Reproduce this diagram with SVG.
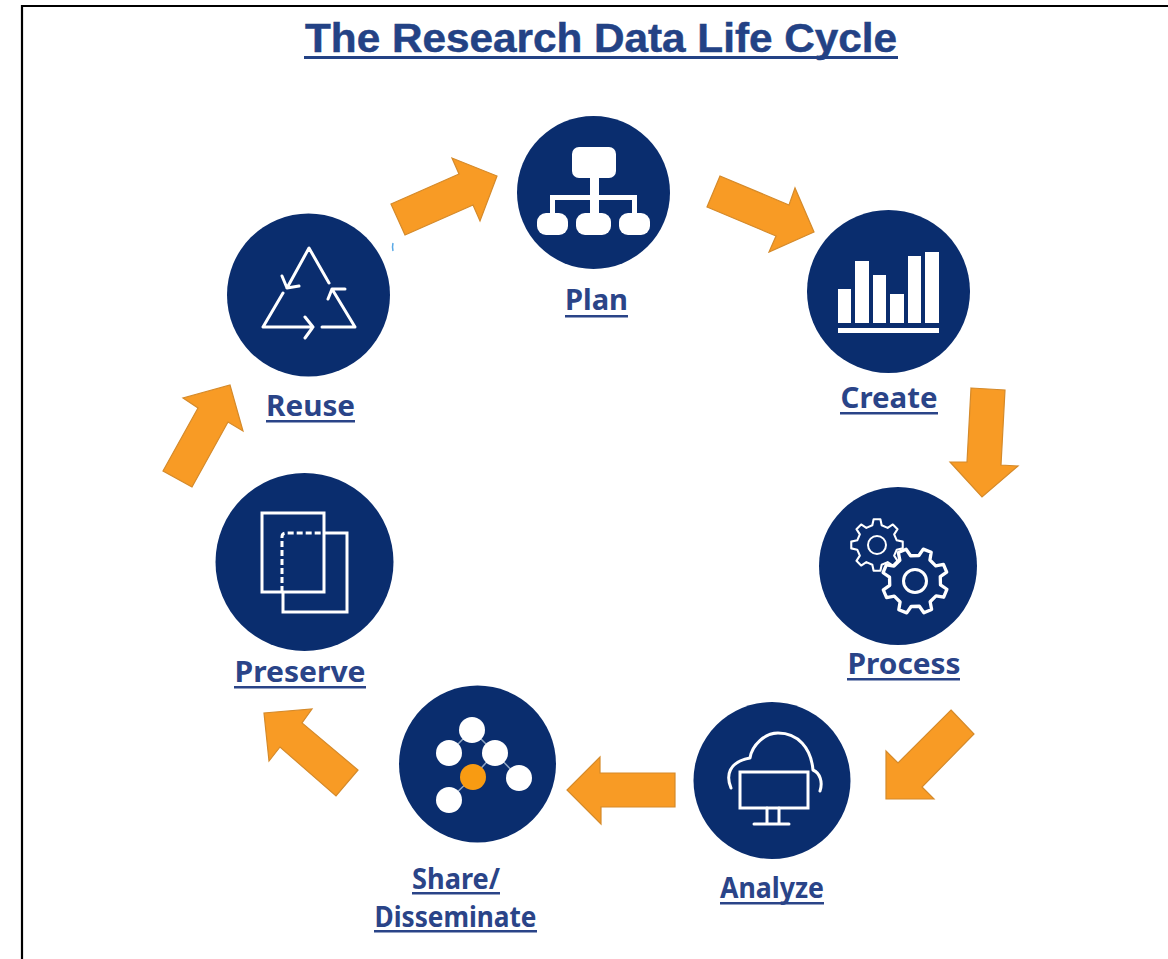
<svg xmlns="http://www.w3.org/2000/svg" width="1168" height="959" viewBox="0 0 1168 959">
<style>
.disc{fill:#0a2d6e}
.lbl{font-family:"Noto Sans","Open Sans",sans-serif;font-weight:700;font-size:29px;fill:#2a4488;text-anchor:middle}
.ul{fill:#2a4488}
.arrow{fill:#f89b25;stroke:#d58a2a;stroke-width:1.2;stroke-linejoin:miter}
.w{fill:#fff}
.ol{fill:none;stroke:#fff;stroke-width:3;stroke-linecap:round;stroke-linejoin:round}
</style>
<defs>
<path id="gear" d="M99 13 76 18 66 41 79 61 61 79 41 66 18 76 13 99 -13 99 -18 76 -41 66 -61 79 -79 61 -66 41 -76 18 -99 13 -99 -13 -76 -18 -66 -41 -79 -61 -61 -79 -41 -66 -18 -76 -13 -99 13 -99 18 -76 41 -66 61 -79 79 -61 66 -41 76 -18 99 -13Z" stroke-linejoin="round"/>
</defs>
<rect width="1168" height="959" fill="#fff"/>
<path d="M22 959V6H1168" fill="none" stroke="#000" stroke-width="2.2"/>
<g id="title">
<text x="601" y="52" font-family="Liberation Sans, Arial, sans-serif" font-weight="700" font-size="41" fill="#234285" stroke="#234285" stroke-width=".5" text-anchor="middle" textLength="592" lengthAdjust="spacingAndGlyphs">The Research Data Life Cycle</text>
<rect fill="#234285" x="304" y="56" width="594" height="3"/>
</g>
<g id="connectors">
<polygon class="arrow" points="391,204 459,174 452,158 497,176 480,221 473,205 405,235"/>
<polygon class="arrow" points="720,176 789,205 795,188 814,232 769,252 776,236 707,207"/>
<polygon class="arrow" points="971,388 1005,390 1001,465 1018,466 982,497 950,462 967,462"/>
<polygon class="arrow" points="951,710 974,734 922,787 934,799 886,799 886,751 898,763"/>
<polygon class="arrow" points="675,773 600,773 600,757 567,790 601,824 601,807 675,807"/>
<polygon class="arrow" points="358,770 336,796 280,747 269,761 264,713 312,709 302,723"/>
<polygon class="arrow" points="192,487 163,471 198,408 183,398 230,385 243,431 228,422"/>
<path d="M393 243q-1 4 0 8" fill="none" stroke="#5aa9e6" stroke-width="1.5"/>
</g>
<g id="plan">
<circle class="disc" cx="593.5" cy="192.5" r="76.5"/>
<rect class="w" x="572" y="147" width="44" height="31" rx="7"/>
<rect class="w" x="590" y="178" width="9" height="36"/>
<path d="M552.500 214V197.500H634.500V214" fill="none" stroke="#fff" stroke-width="5"/>
<rect class="w" x="537" y="213" width="31" height="22" rx="9"/>
<rect class="w" x="576" y="213" width="35" height="22" rx="9"/>
<rect class="w" x="619" y="213" width="31" height="22" rx="9"/>
<text class="lbl" x="596.500" y="310" textLength="63" lengthAdjust="spacingAndGlyphs">Plan</text>
<rect class="ul" x="565" y="315" width="63" height="2.500"/>
</g>
<g id="create">
<circle class="disc" cx="888.500" cy="291.500" r="81.500"/>
<rect class="w" x="838" y="289" width="13" height="34"/>
<rect class="w" x="855" y="261" width="14" height="62"/>
<rect class="w" x="873" y="275" width="13" height="48"/>
<rect class="w" x="890" y="294" width="14" height="29"/>
<rect class="w" x="908" y="256" width="13" height="67"/>
<rect class="w" x="925" y="252" width="14" height="71"/>
<rect class="w" x="838" y="328" width="101" height="5"/>
<text class="lbl" x="889" y="408" textLength="97" lengthAdjust="spacingAndGlyphs">Create</text>
<rect class="ul" x="840" y="412" width="98" height="2.500"/>
</g>
<g id="process">
<circle class="disc" cx="898" cy="566" r="79"/>
<use href="#gear" transform="translate(877 545) scale(.26)" fill="none" stroke="#fff" stroke-width="8"/>
<circle cx="877" cy="545" r="9" fill="none" stroke="#fff" stroke-width="2"/>
<use href="#gear" transform="translate(915 581) rotate(22) scale(.33)" fill="#0a2d6e" stroke="#fff" stroke-width="10"/>
<circle cx="915" cy="581" r="11.500" fill="none" stroke="#fff" stroke-width="3"/>
<text class="lbl" x="904" y="674" textLength="113" lengthAdjust="spacingAndGlyphs">Process</text>
<rect class="ul" x="847" y="678" width="113" height="2.500"/>
</g>
<g id="analyze">
<circle class="disc" cx="772" cy="780.500" r="78.500"/>
<rect x="740" y="772" width="68" height="36" fill="none" stroke="#fff" stroke-width="3"/>
<path class="ol" d="M767 808V823M779 808V823M754 824H789" stroke-width="2.500"/>
<path class="ol" d="M731 788C726 776 728 762 750 758C752 745 765 733 778 733C798 733 811 748 813 770C820 773 823 782 820 791" stroke-width="2.500"/>
<text class="lbl" x="772" y="898" textLength="104" lengthAdjust="spacingAndGlyphs">Analyze</text>
<rect class="ul" x="720" y="902" width="104" height="2.500"/>
</g>
<g id="share">
<circle class="disc" cx="477.500" cy="764" r="78.500"/>
<path d="M472 730 449 753M472 730 495 753M495 753 519 778M495 753 473 777M473 777 449 800" stroke="#8fa6c4" stroke-width="1.500"/>
<circle class="w" cx="472" cy="730" r="13"/>
<circle class="w" cx="449" cy="753" r="13"/>
<circle class="w" cx="495" cy="753" r="13"/>
<circle cx="473" cy="777" r="13" fill="#f89b12"/>
<circle class="w" cx="519" cy="778" r="13"/>
<circle class="w" cx="449" cy="800" r="13"/>
<text class="lbl" x="456" y="889" textLength="88" lengthAdjust="spacingAndGlyphs">Share/</text>
<rect class="ul" x="412" y="892" width="88" height="2.500"/>
<text class="lbl" x="455.500" y="927" textLength="162" lengthAdjust="spacingAndGlyphs">Disseminate</text>
<rect class="ul" x="374" y="930" width="163" height="2.500"/>
</g>
<g id="preserve">
<circle class="disc" cx="304.500" cy="562" r="89"/>
<rect x="262" y="513" width="62" height="79" fill="none" stroke="#fff" stroke-width="3"/>
<path d="M324 533H347V612H283V592" fill="none" stroke="#fff" stroke-width="3"/>
<path d="M282 592V537Q282 533 286 533H324" fill="none" stroke="#fff" stroke-width="3" stroke-dasharray="6 3"/>
<text class="lbl" x="300" y="682" textLength="131" lengthAdjust="spacingAndGlyphs">Preserve</text>
<rect class="ul" x="234" y="686" width="132" height="2.500"/>
</g>
<g id="reuse">
<circle class="disc" cx="308.500" cy="295" r="81.500"/>
<path class="ol" d="M329 283 309 248 287 288M282 276 287 288 299 286M283 293 263 327H313M305 317 313 327 305 338M322 327H355L332 289M328 299 332 289H345"/>
<text class="lbl" x="310.500" y="416" textLength="89" lengthAdjust="spacingAndGlyphs">Reuse</text>
<rect class="ul" x="266" y="420" width="89" height="2.500"/>
</g>
</svg>
